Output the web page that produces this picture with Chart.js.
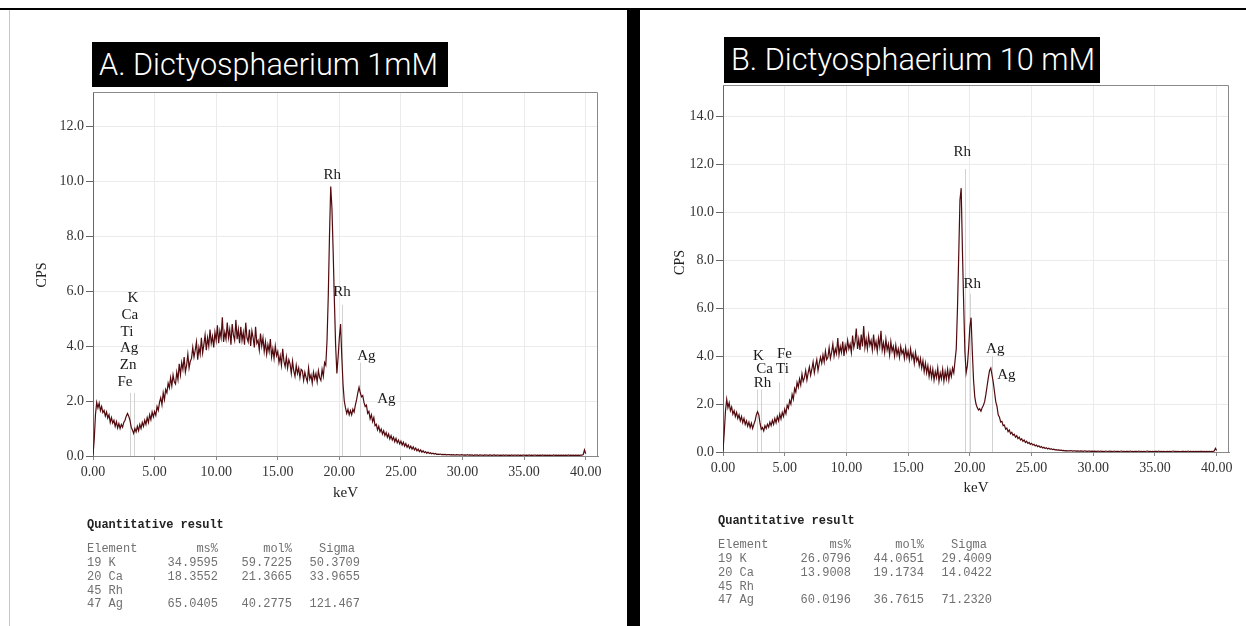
<!DOCTYPE html>
<html>
<head>
<meta charset="utf-8">
<script src="https://cdn.jsdelivr.net/npm/chart.js@4.4.0/dist/chart.umd.min.js"></script>
<style>
body{margin:0;width:1246px;height:626px;background:#fff;position:relative;overflow:hidden}
.topline{position:absolute;left:0;top:8px;width:1246px;height:2px;background:#000}
.bar{position:absolute;left:627px;top:8px;width:13px;height:618px;background:#000}
.edge{position:absolute;left:9px;top:10px;width:1px;height:616px;background:#c8c8c8}
.title{position:absolute;background:#000;color:#fff;font-family:Roboto,"Noto Sans",sans-serif;font-weight:300;font-size:32px;line-height:45px;white-space:nowrap;overflow:hidden}
.title span{display:inline-block;transform-origin:0 50%}
canvas{position:absolute}
.cell{position:absolute;font-family:"Liberation Mono",monospace;font-size:12px;line-height:13px;color:#707070;white-space:pre}
.cell.h{font-weight:bold;color:#222}
</style>
</head>
<body>
<div class="topline"></div>
<div class="edge"></div>
<div class="bar"></div>
<div class="title" id="tA" style="left:92px;top:42px;width:356px;height:45px"><span>A. Dictyosphaerium 1mM</span></div>
<div class="title" id="tB" style="left:724px;top:37px;width:376px;height:46px"><span>B. Dictyosphaerium 10 mM</span></div>
<canvas id="chartA" width="620" height="520" style="left:0;top:0;width:620px;height:520px"></canvas>
<canvas id="chartB" width="606" height="520" style="left:640px;top:0;width:606px;height:520px"></canvas>
<div id="tables"></div>
<script>
// spectrum channels: 0.1 keV apart, starting at 0 keV
const energyStep = 0.1

const cpsA = [
0.05,0.6,1.5,1.95,1.75,1.92,1.65,1.8,1.58,1.66,
1.45,1.6,1.38,1.5,1.22,1.4,1.2,1.3,1.08,1.25,
1.02,1.18,1.0,1.15,1.05,1.22,1.3,1.45,1.55,1.45,
1.3,1.05,0.95,0.82,1.0,0.88,1.08,0.92,1.15,1.0,
1.22,1.08,1.3,1.15,1.4,1.22,1.5,1.32,1.6,1.42,
1.62,1.48,1.8,1.66,1.95,2.12,1.86,2.3,2.05,2.42,
2.3,2.65,2.48,2.85,2.55,2.95,2.7,2.62,3.05,2.78,
3.35,2.95,3.4,3.15,3.6,3.05,3.3,3.7,3.2,3.45,
3.55,3.95,3.6,3.85,4.15,3.5,3.95,3.7,4.3,3.75,
4.05,4.4,3.85,4.3,4.0,4.6,4.1,4.35,3.95,4.5,
4.2,4.75,4.1,4.55,4.3,5.05,4.15,4.5,4.25,4.85,
4.3,4.6,4.05,4.8,4.4,4.2,4.95,4.25,4.6,4.1,
4.7,4.2,4.5,4.05,4.85,4.3,4.15,4.6,4.0,4.55,
4.3,3.95,4.7,4.1,4.2,3.85,4.45,4.0,4.3,3.8,
4.15,3.7,4.05,3.8,4.25,3.6,3.9,3.55,4.0,3.65,
3.8,3.4,3.65,3.3,3.9,3.45,3.25,3.6,3.2,3.5,
3.35,3.0,3.45,3.1,2.9,3.3,3.0,3.2,2.85,3.15,
3.1,2.75,3.05,2.85,2.7,3.2,2.8,2.95,2.65,3.05,
2.8,3.0,2.7,3.1,2.85,2.75,3.15,2.9,3.4,3.3,
4.2,5.8,8.0,9.8,9.0,7.4,5.6,4.0,3.0,3.6,
4.3,4.8,3.6,2.6,2.0,1.75,1.55,1.7,1.5,1.65,
1.5,1.7,1.6,1.85,2.05,2.3,2.5,2.3,2.15,2.2,
1.95,1.8,1.85,1.55,1.62,1.35,1.5,1.25,1.4,1.1,
1.15,0.95,1.08,0.88,0.98,0.8,0.92,0.74,0.85,0.68,
0.8,0.62,0.74,0.58,0.68,0.52,0.64,0.48,0.58,0.44,
0.54,0.4,0.5,0.36,0.45,0.32,0.4,0.28,0.36,0.25,
0.33,0.22,0.29,0.19,0.25,0.16,0.22,0.14,0.19,0.12,
0.16,0.1,0.14,0.09,0.12,0.08,0.1,0.07,0.09,0.06,
0.07,
0.06,0.07,0.05,0.06,0.05,0.06,0.04,0.05,0.05,0.04,
0.05,0.04,0.05,0.03,0.05,0.04,0.04,0.03,0.05,0.04,
0.03,0.04,0.03,0.05,0.03,0.04,0.03,0.04,0.02,0.04,
0.03,0.04,0.02,0.04,0.03,0.03,0.02,0.04,0.03,0.03,
0.02,0.04,0.03,0.02,0.03,0.04,0.02,0.03,0.03,0.02,
0.03,0.02,0.04,0.02,0.03,0.03,0.02,0.03,0.02,0.04,
0.02,0.03,0.03,0.02,0.04,0.02,0.03,0.02,0.03,0.03,
0.02,0.03,0.02,0.04,0.02,0.03,0.02,0.03,0.03,0.02,
0.03,0.02,0.03,0.02,0.04,0.02,0.03,0.02,0.03,0.02,
0.03,0.02,0.02,0.04,0.02,0.03,0.02,0.03,0.02,0.03,
0.02,0.03,0.02,0.03,0.02,0.04,0.02,0.03,0.02,0.03,
0.02,0.03,0.02,0.03,0.02,0.03,0.03,0.05,0.22,0.08
]

const cpsB = [
0.05,0.8,1.7,2.2,1.85,2.05,1.72,1.88,1.58,1.72,
1.48,1.65,1.4,1.55,1.3,1.48,1.22,1.4,1.15,1.3,
1.08,1.25,1.02,1.2,0.98,1.15,1.3,1.55,1.68,1.55,
1.2,0.95,1.02,0.88,1.1,0.98,1.16,1.04,1.25,1.1,
1.32,1.15,1.4,1.22,1.48,1.3,1.58,1.38,1.65,1.48,
1.78,1.6,1.95,1.82,2.15,2.0,2.4,2.2,2.65,2.5,
2.9,2.7,3.05,2.8,3.25,2.95,3.1,3.4,3.0,3.3,
3.55,3.2,3.45,3.75,3.3,3.6,3.85,3.4,3.7,3.95,
3.7,4.05,3.75,4.2,3.85,3.95,4.35,3.9,4.15,4.5,
4.0,4.3,4.1,4.75,4.05,4.4,4.15,4.6,4.0,4.45,
4.2,4.65,4.3,4.5,4.15,4.85,4.35,4.6,5.15,4.3,
4.7,4.25,4.9,4.4,5.25,4.35,4.7,4.3,4.85,4.45,
4.65,4.25,4.9,4.35,4.6,4.2,4.75,4.4,5.05,4.25,
4.55,4.15,4.7,4.25,4.5,4.05,4.6,4.2,4.4,4.0,
4.45,4.05,4.3,3.95,4.4,4.1,4.25,3.9,4.35,3.95,
4.2,3.85,4.3,3.9,4.1,3.7,4.15,3.8,3.95,3.6,
3.9,3.5,3.8,3.35,3.7,3.3,3.6,3.15,3.5,3.1,
3.45,3.0,3.35,3.1,3.5,2.95,3.3,3.05,3.45,2.95,
3.35,3.05,3.45,3.0,3.4,3.15,3.5,3.3,3.8,4.3,
6.0,8.2,10.5,11.0,8.4,6.2,4.2,3.3,3.6,4.3,
5.2,5.6,4.2,3.0,2.3,2.0,1.85,1.75,1.8,1.7,
1.85,1.95,2.1,2.4,2.75,3.1,3.4,3.5,3.2,2.9,
2.5,2.1,1.9,1.55,1.45,1.25,1.28,1.1,1.12,0.95,
1.0,0.85,0.92,0.76,0.82,0.7,0.74,0.62,0.68,0.56,
0.62,0.5,0.55,0.45,0.5,0.4,0.45,0.36,0.4,0.32,
0.36,0.29,0.32,0.25,0.29,0.22,0.26,0.19,0.23,0.17,
0.2,0.15,0.18,0.13,0.16,0.11,0.14,0.1,0.12,0.09,
0.1,0.08,0.09,0.07,0.08,0.06,0.07,0.05,0.06,0.05,
0.05,
0.05,0.06,0.04,0.05,0.05,0.04,0.05,0.04,0.04,0.05,
0.04,0.03,0.05,0.04,0.03,0.04,0.04,0.03,0.04,0.03,
0.04,0.03,0.03,0.04,0.02,0.04,0.03,0.03,0.02,0.04,
0.03,0.02,0.04,0.03,0.03,0.02,0.04,0.02,0.03,0.03,
0.02,0.03,0.04,0.02,0.03,0.02,0.03,0.03,0.02,0.04,
0.02,0.03,0.02,0.03,0.03,0.02,0.04,0.02,0.03,0.02,
0.03,0.02,0.03,0.04,0.02,0.03,0.02,0.03,0.02,0.03,
0.03,0.02,0.04,0.02,0.03,0.02,0.03,0.02,0.02,0.03,
0.02,0.03,0.02,0.03,0.04,0.02,0.03,0.02,0.03,0.02,
0.02,0.03,0.03,0.02,0.03,0.02,0.04,0.02,0.03,0.02,
0.03,0.02,0.03,0.02,0.03,0.02,0.03,0.03,0.02,0.03,
0.02,0.03,0.02,0.03,0.02,0.03,0.02,0.04,0.15,0.06
]

// peak labels: [text, keV, cps]
const peaksA = [
  ['Rh',19.43,10.22],['Rh',20.22,5.96],['Ag',22.2,3.64],['Ag',23.82,2.07],
  ['K',3.25,5.75],['Ca',3.0,5.13],['Ti',2.76,4.51],['Ag',2.93,3.93],['Zn',2.85,3.31],['Fe',2.6,2.69]
]
const peaksB = [
  ['Rh',19.39,12.5],['Rh',20.2,7.0],['Ag',22.06,4.29],['Ag',22.96,3.21],
  ['K',2.87,4.0],['Ca',3.36,3.46],['Rh',3.2,2.88],['Fe',4.98,4.08],['Ti',4.82,3.46]
]
// element marker lines: [keV, top cps]
const markersA = [[3.0,2.3],[3.3,2.3],[20.25,5.5],[21.7,3.4]]
const markersB = [[2.75,2.6],[3.05,2.6],[4.5,2.9],[19.6,11.8],[20.05,6.6],[21.8,4.0]]

const yMaxA = 13.24
const yMaxB = 15.3
const xMax = 41.0

const tableHead = ['Element','ms%','mol%','Sigma']
const rowsA = [
  ['19 K','34.9595','59.7225','50.3709'],
  ['20 Ca','18.3552','21.3665','33.9655'],
  ['45 Rh','','',''],
  ['47 Ag','65.0405','40.2775','121.467']
]
const rowsB = [
  ['19 K','26.0796','44.0651','29.4009'],
  ['20 Ca','13.9008','19.1734','14.0422'],
  ['45 Rh','','',''],
  ['47 Ag','60.0196','36.7615','71.2320']
]

// titles: squeeze the light sans into the width of the black boxes
function fitTitle(id, target){
  const s = document.querySelector('#' + id + ' span')
  const w = s.getBoundingClientRect().width
  s.style.transform = 'scaleX(' + (target / w) + ')'
  s.style.marginLeft = '7px'
}
fitTitle('tA', 339)
fitTitle('tB', 364)

// tables
const tables = document.getElementById('tables')
function cell(text, x, y, right, bold){
  const d = document.createElement('div')
  d.className = 'cell' + (bold ? ' h' : '')
  d.textContent = text
  d.style.top = (y - 6.5) + 'px'
  if(right){
    d.style.right = (1246 - x) + 'px'
  }else{
    d.style.left = x + 'px'
  }
  tables.appendChild(d)
}
function drawTable(rows, left, rights, yQuant, yHead, yRows){
  cell('Quantitative result', left, yQuant, false, true)
  cell(tableHead[0], left, yHead)
  cell(tableHead[1], rights[0], yHead, true)
  cell(tableHead[2], rights[1], yHead, true)
  cell(tableHead[3], rights[2] - 5, yHead, true)
  rows.forEach((r, i) => {
    cell(r[0], left, yRows[i])
    for(let c = 1; c < 4; c++) if(r[c]) cell(r[c], rights[c-1], yRows[i], true)
  })
}
drawTable(rowsA, 87, [218,292,360], 525, 549, [563,577,591,604])
drawTable(rowsB, 718, [851,924,992], 521, 545, [559,573,587,600])

const serif = '"Liberation Serif", "Times New Roman", serif'

const extras = {
  id: 'extras',
  beforeDatasetsDraw(chart, args, o){
    const {ctx, scales} = chart
    ctx.save()
    ctx.strokeStyle = '#d2d2d2'
    ctx.lineWidth = 1
    o.markers.forEach(m => {
      const x = Math.round(scales.x.getPixelForValue(m[0])) + 0.5
      ctx.beginPath()
      ctx.moveTo(x, scales.y.getPixelForValue(0))
      ctx.lineTo(x, scales.y.getPixelForValue(m[1]))
      ctx.stroke()
    })
    ctx.restore()
  },
  afterDatasetsDraw(chart, args, o){
    const {ctx, chartArea, scales} = chart
    ctx.save()
    ctx.strokeStyle = '#8a8a8a'
    ctx.lineWidth = 1
    ctx.beginPath()
    ctx.moveTo(chartArea.left, chartArea.top + 0.5)
    ctx.lineTo(chartArea.right - 0.5, chartArea.top + 0.5)
    ctx.lineTo(chartArea.right - 0.5, chartArea.bottom)
    ctx.stroke()
    ctx.fillStyle = '#1a1a1a'
    ctx.font = '15px ' + serif
    ctx.textAlign = 'center'
    ctx.textBaseline = 'middle'
    o.peaks.forEach(p => {
      ctx.fillText(p[0], scales.x.getPixelForValue(p[1]), scales.y.getPixelForValue(p[2]))
    })
    ctx.fillStyle = '#222'
    ctx.fillText('keV', (chartArea.left + chartArea.right) / 2, chartArea.bottom + o.kevGap)
    ctx.translate(chartArea.left - o.cpsGap, (chartArea.top + chartArea.bottom) / 2 + o.cpsShift)
    ctx.rotate(-Math.PI / 2)
    ctx.font = '14px ' + serif
    ctx.fillText('CPS', 0, 0)
    ctx.restore()
  }
}

function makeChart(el, cps, yMax, peaks, markers, box){
  const points = cps.map((v, i) => ({x: i * energyStep, y: v}))
  return new Chart(el, {
    type: 'line',
    data: {
      datasets: [{
        data: points,
        borderColor: 'rgb(82,10,14)',
        borderWidth: 1.2,
        pointRadius: 0,
        tension: 0
      }]
    },
    options: {
      responsive: false,
      animation: false,
      events: [],
      layout: {padding: {left: 0, top: box.top, right: box.right, bottom: 0}},
      plugins: {
        legend: {display: false},
        tooltip: {enabled: false},
        extras: {peaks: peaks, markers: markers, kevGap: box.kevGap, cpsGap: box.cpsGap, cpsShift: box.cpsShift}
      },
      scales: {
        x: {
          type: 'linear',
          min: 0,
          max: xMax,
          afterFit: s => { s.height = box.xh },
          grid: {color: '#ebebeb', tickColor: '#888', tickLength: 4},
          border: {color: '#888'},
          ticks: {
            stepSize: 5,
            includeBounds: false,
            maxRotation: 0,
            padding: 4,
            color: '#333',
            font: {family: serif, size: 14},
            callback: v => v.toFixed(2)
          }
        },
        y: {
          min: 0,
          max: yMax,
          afterFit: s => { s.width = box.yw },
          grid: {color: '#ebebeb', tickColor: '#666', tickLength: 7},
          border: {color: '#666'},
          ticks: {
            stepSize: 2,
            includeBounds: false,
            padding: 2,
            color: '#333',
            font: {family: serif, size: 14},
            callback: v => v.toFixed(1)
          }
        }
      }
    },
    plugins: [extras]
  })
}

makeChart(document.getElementById('chartA'), cpsA, yMaxA, peaksA, markersA,
  {top: 92, right: 22, xh: 64, yw: 93, kevGap: 37, cpsGap: 51, cpsShift: 1})
makeChart(document.getElementById('chartB'), cpsB, yMaxB, peaksB, markersB,
  {top: 85, right: 17, xh: 68, yw: 83, kevGap: 36, cpsGap: 43, cpsShift: -6})
</script>
</body>
</html>
